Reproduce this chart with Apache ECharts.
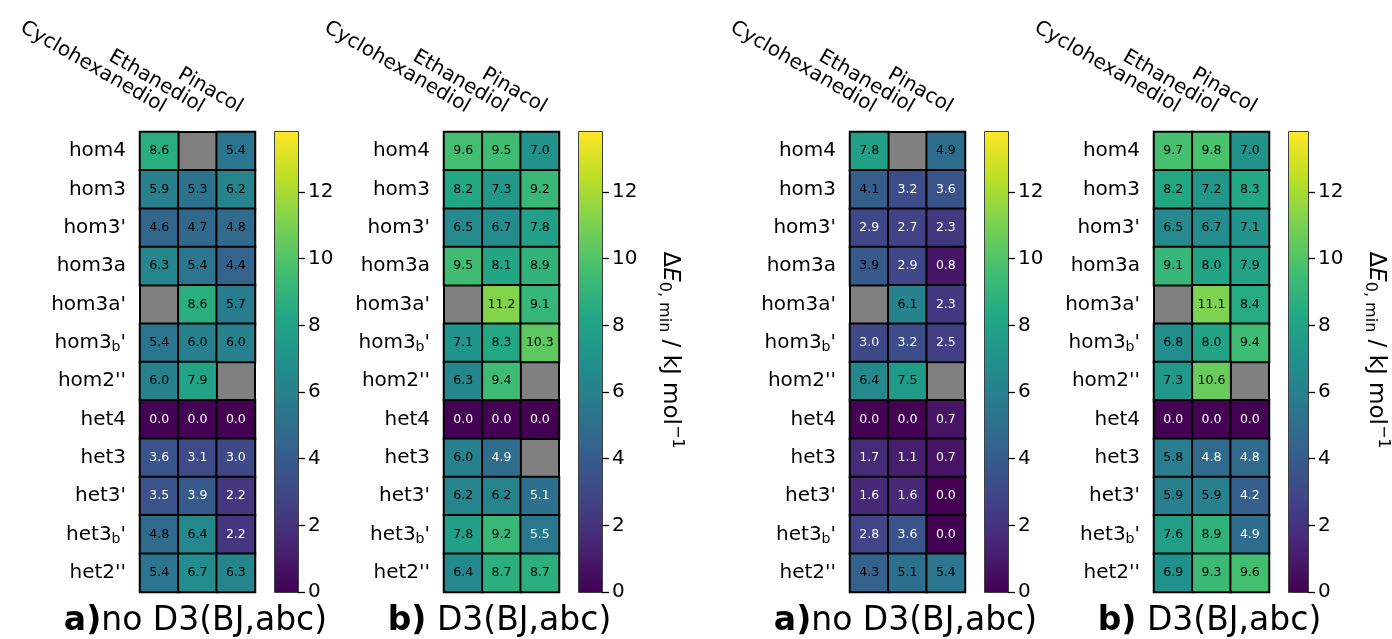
<!DOCTYPE html>
<html>
<head>
<meta charset="utf-8">
<script src="https://cdn.jsdelivr.net/npm/echarts@6/dist/echarts.min.js"></script>
<style>
  html, body { margin: 0; padding: 0; background: #fff; }
  #chart { width: 1392px; height: 639px; }
</style>
</head>
<body>
<div id="chart"></div>
<script>
// rows / columns of every panel
const rows = ['hom4', 'hom3', "hom3'", 'hom3a', "hom3a'", "hom3_b'", "hom2''",
              'het4', 'het3', "het3'", "het3_b'", "het2''"];
const cols = ['Cyclohexanediol', 'Ethanediol', 'Pinacol'];
const cbTicks = [0, 2, 4, 6, 8, 10, 12];
const vmin = 0;
const vmax = 13.8;

// ΔE values, null = missing (grey cell)
const noD3Left = [
  [8.6, null, 5.4], [5.9, 5.3, 6.2], [4.6, 4.7, 4.8], [6.3, 5.4, 4.4],
  [null, 8.6, 5.7], [5.4, 6.0, 6.0], [6.0, 7.9, null], [0.0, 0.0, 0.0],
  [3.6, 3.1, 3.0], [3.5, 3.9, 2.2], [4.8, 6.4, 2.2], [5.4, 6.7, 6.3]
];
const d3Left = [
  [9.6, 9.5, 7.0], [8.2, 7.3, 9.2], [6.5, 6.7, 7.8], [9.5, 8.1, 8.9],
  [null, 11.2, 9.1], [7.1, 8.3, 10.3], [6.3, 9.4, null], [0.0, 0.0, 0.0],
  [6.0, 4.9, null], [6.2, 6.2, 5.1], [7.8, 9.2, 5.5], [6.4, 8.7, 8.7]
];
const noD3Right = [
  [7.8, null, 4.9], [4.1, 3.2, 3.6], [2.9, 2.7, 2.3], [3.9, 2.9, 0.8],
  [null, 6.1, 2.3], [3.0, 3.2, 2.5], [6.4, 7.5, null], [0.0, 0.0, 0.7],
  [1.7, 1.1, 0.7], [1.6, 1.6, 0.0], [2.8, 3.6, 0.0], [4.3, 5.1, 5.4]
];
const d3Right = [
  [9.7, 9.8, 7.0], [8.2, 7.2, 8.3], [6.5, 6.7, 7.1], [9.1, 8.0, 7.9],
  [null, 11.1, 8.4], [6.8, 8.0, 9.4], [7.3, 10.6, null], [0.0, 0.0, 0.0],
  [5.8, 4.8, 4.8], [5.9, 5.9, 4.2], [7.6, 8.9, 4.9], [6.9, 9.3, 9.6]
];
const panels = [noD3Left, d3Left, noD3Right, d3Right];
const panelTags = ['a)', 'b)', 'a)', 'b)'];
const panelNames = ['no D3(BJ,abc)', ' D3(BJ,abc)', 'no D3(BJ,abc)', ' D3(BJ,abc)'];

const viridis = ['#440154', '#482475', '#414487', '#355f8d', '#2a788e', '#21918c',
                 '#22a884', '#44bf70', '#7ad151', '#bddf26', '#fde725'];

const heatLeft = [140, 444, 850, 1154];
const cbLeft = [275, 579, 985, 1289];
const TOP = 132, H = 460, W = 115, CBW = 23;
const FONT = 'DejaVu Sans';

const chart = echarts.init(document.getElementById('chart'));

const grids = [], xAxes = [], yAxes = [], series = [], graphics = [];

const subRich = {
  s: { fontSize: 14, fontFamily: FONT, color: '#000', padding: [10, 0, 0, 0] }
};
const rowLabel = v => v.replace(/_(\w)/, '{s|$1}');

panels.forEach((vals, i) => {
  grids.push({
    left: heatLeft[i], top: TOP, width: W, height: H,
    show: true, backgroundColor: '#808080', borderColor: '#000', borderWidth: 2
  });
  xAxes.push({
    type: 'category', gridIndex: i, position: 'top', data: cols,
    axisLine: { show: false },
    axisTick: { alignWithLabel: true, length: 7, lineStyle: { color: '#000', width: 1.3 } },
    axisLabel: {
      interval: 0, rotate: 30, align: 'right', verticalAlign: 'bottom',
      fontSize: 20, color: '#000', margin: 15, fontFamily: FONT
    }
  });
  yAxes.push({
    type: 'category', gridIndex: i, data: rows, inverse: true,
    axisLine: { show: false },
    axisTick: { alignWithLabel: true, length: 7, lineStyle: { color: '#000', width: 1.3 } },
    axisLabel: {
      interval: 0, fontSize: 20, color: '#000', margin: 14, fontFamily: FONT,
      formatter: rowLabel, rich: subRich
    }
  });

  // labels turn white below half of the panel maximum
  const flat = vals.flat().filter(v => v !== null);
  const thr = Math.max(...flat) / 2;
  const data = [];
  vals.forEach((r, ri) => r.forEach((v, ci) => {
    if (v === null) return;
    data.push({ value: [ci, ri, v], label: { color: v >= thr ? '#000' : '#fff' } });
  }));

  series.push({
    type: 'heatmap', xAxisIndex: i, yAxisIndex: i, data,
    label: {
      show: true, fontSize: 12.5, fontFamily: FONT,
      formatter: p => p.value[2].toFixed(1)
    },
    itemStyle: { borderColor: '#000', borderWidth: 2 },
    emphasis: { disabled: true }
  });

  graphics.push({
    type: 'text', x: heatLeft[i] + W / 2 - 2, y: 621,
    style: {
      text: '{b|' + panelTags[i] + '}{n|' + panelNames[i] + '}',
      align: 'center', verticalAlign: 'middle',
      rich: {
        b: { fontSize: 33, fontWeight: 'bold', fontFamily: FONT, fill: '#000' },
        n: { fontSize: 33, fontFamily: FONT, fill: '#000' }
      }
    }
  });
});

// colorbars
panels.forEach((vals, i) => {
  const gi = 4 + i;
  grids.push({
    left: cbLeft[i], top: TOP, width: CBW, height: H,
    show: true, borderColor: '#000', borderWidth: 1.5
  });
  xAxes.push({ type: 'category', gridIndex: gi, data: ['cb'], show: false });
  yAxes.push({
    type: 'value', gridIndex: gi, position: 'right', min: vmin, max: vmax,
    splitLine: { show: false }, axisLine: { show: false },
    axisTick: { show: true, length: 7, customValues: cbTicks, lineStyle: { color: '#000', width: 1.3 } },
    axisLabel: { fontSize: 20, color: '#000', margin: 10, fontFamily: FONT, customValues: cbTicks },
    name: i % 2 === 1 ? '{n|Δ}{i|E}{s|0, min}{n| / kJ mol}{p|−1}{e|}' : '',
    nameLocation: 'middle', nameRotate: -90, nameGap: 53,
    nameTextStyle: {
      rich: {
        n: { fontSize: 23, fontFamily: FONT, color: '#000' },
        i: { fontSize: 23, fontFamily: FONT, fontStyle: 'italic', color: '#000' },
        s: { fontSize: 16, fontFamily: FONT, color: '#000', padding: [12, 0, 0, 0] },
        p: { fontSize: 16, fontFamily: FONT, color: '#000', padding: [0, 0, 14, 0] },
        e: { width: 24 }
      }
    }
  });
  series.push({
    type: 'bar', xAxisIndex: gi, yAxisIndex: gi, data: [vmax],
    barWidth: '100%', silent: true,
    itemStyle: {
      color: new echarts.graphic.LinearGradient(0, 1, 0, 0,
        viridis.map((c, k) => ({ offset: k / (viridis.length - 1), color: c })))
    }
  });
});

const option = {
  animation: false,
  textStyle: { fontFamily: FONT },
  grid: grids,
  xAxis: xAxes,
  yAxis: yAxes,
  visualMap: {
    show: false, min: vmin, max: vmax, dimension: 2, seriesIndex: [0, 1, 2, 3],
    inRange: { color: viridis }
  },
  series,
  graphic: graphics
};

chart.setOption(option);
window.addEventListener('resize', () => chart.resize());
</script>
</body>
</html>
